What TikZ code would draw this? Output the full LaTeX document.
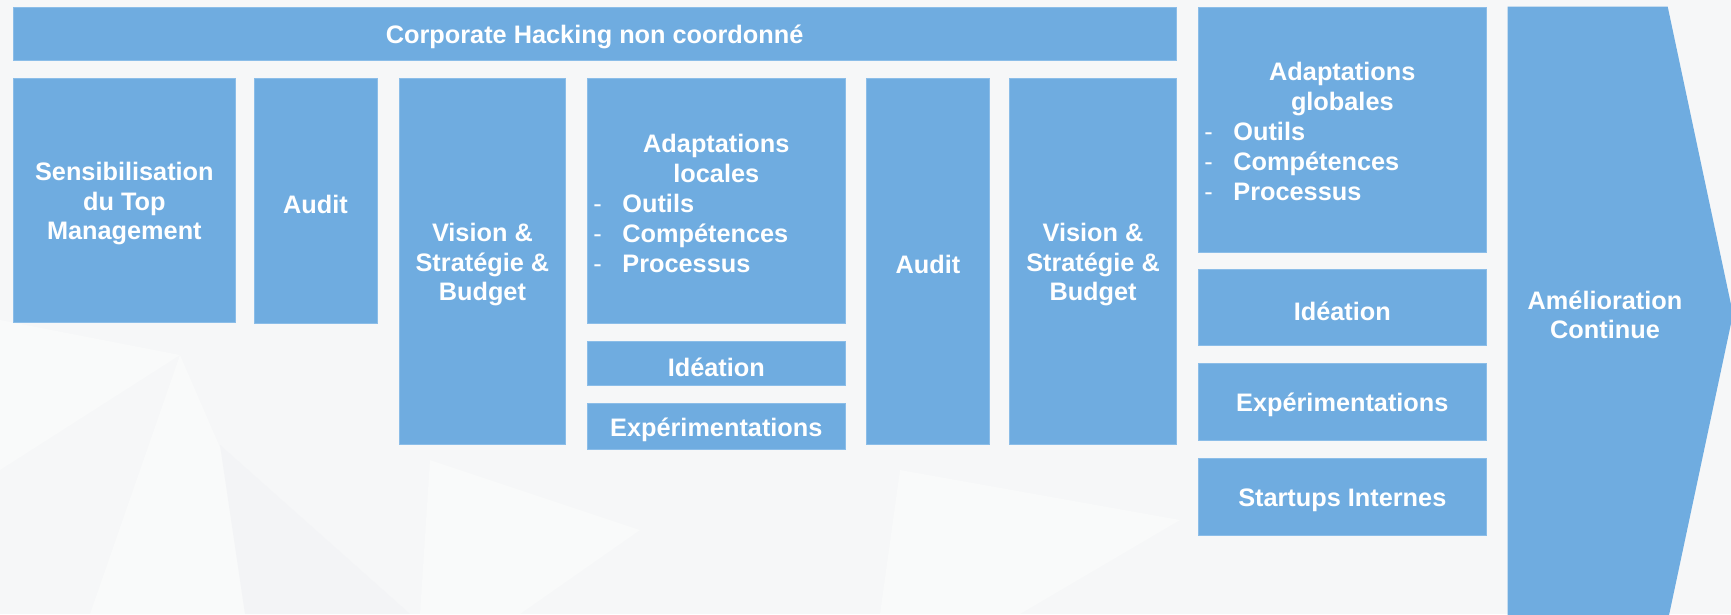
\documentclass[tikz,border=0pt]{standalone}
\usepackage{fontspec}
\setmainfont{Liberation Sans}
\definecolor{boxblue}{HTML}{6FACE0}
\definecolor{boxedge}{HTML}{8BBDE8}
\definecolor{bgcol}{HTML}{F6F7F8}
\definecolor{facetA}{HTML}{F9FAFA}
\definecolor{facetB}{HTML}{F3F4F6}
\newcommand\dashitem[1]{\makebox[35.5pt][l]{\hspace*{6.5pt}\mdseries-}#1}
\tikzset{
  blk/.style={fill=boxblue, draw=boxedge, line width=0.8pt, inner sep=0pt},
  lbl/.style={text=white, inner sep=0pt, font=\bfseries\fontsize{25.3}{30}\selectfont},
  clbl/.style={text=white, inner sep=0pt, align=center, font=\bfseries\fontsize{25.3}{29.5}\selectfont},
  facet/.style={fill=#1, draw=none}
}
\newcommand\mybox[6]{%
  \node[blk, minimum width={(#4-#2)*1pt}, minimum height={(#5-#3)*1pt}]
    (#1) at ({(#2+#4)/2},{(#3+#5)/2}) {};
  \node[clbl] (#1-t) at ([yshift=-3.5pt]#1.center) {#6};}
\begin{document}
\begin{tikzpicture}[x=1pt,y=-1pt]
\useasboundingbox (0,0) rectangle (1731,614);
% background
\fill[bgcol] (0,0) rectangle (1731,614);
\fill[facet=facetA] (0,320) -- (180,355) -- (0,470) -- cycle;
\fill[facet=facetA] (180,355) -- (245,505) -- (300,614) -- (90,614) -- cycle;
\fill[facet=facetB] (220,445) -- (245,614) -- (410,614) -- cycle;
\fill[facet=facetA] (430,460) -- (640,530) -- (520,614) -- (420,614) -- cycle;
\fill[facet=facetA] (900,470) -- (1180,520) -- (1020,614) -- (880,614) -- cycle;
% boxes
\mybox{bar}{13}{7.7}{1176.3}{59.9}{Corporate Hacking non coordonné}
\mybox{sens}{13}{78.3}{235.7}{322.2}{Sensibilisation\\du Top\\Management}
\mybox{auditA}{254}{78.3}{377}{323.4}{Audit}
\mybox{visA}{399.2}{78.3}{565.6}{444.4}{Vision \&\\Stratégie \&\\Budget}
\mybox{adl}{586.9}{78.3}{845.7}{323.4}{}
\mybox{ideA}{586.9}{341.8}{845.7}{385.7}{Idéation}
\mybox{expA}{586.9}{403.7}{845.7}{449.1}{Expérimentations}
\mybox{auditB}{866.5}{78.3}{989.4}{444.4}{Audit}
\mybox{visB}{1009.8}{78.3}{1176.3}{444.4}{Vision \&\\Stratégie \&\\Budget}
\mybox{adg}{1197.9}{7.7}{1486.7}{252.2}{}
\mybox{ideB}{1197.9}{269}{1486.7}{345.7}{Idéation}
\mybox{expB}{1197.9}{363}{1486.7}{440.1}{Expérimentations}
\mybox{start}{1197.9}{458.1}{1486.7}{535.2}{Startups Internes}
% list texts
\node[lbl, text width=258.8pt, anchor=center] (adltxt) at ([yshift=-3pt]adl.center)
  {\centering Adaptations\\locales\par\raggedright
   \dashitem{Outils}\\\dashitem{Compétences}\\\dashitem{Processus}\par};
\node[lbl, text width=288.8pt, anchor=center] (adgtxt) at ([yshift=-2pt]adg.center)
  {\centering Adaptations\\globales\par\raggedright
   \dashitem{Outils}\\\dashitem{Compétences}\\\dashitem{Processus}\par};
% arrow
\fill[boxblue] (1507.5,6.7) coordinate (arA) -- (1667.7,6.7) -- (1733,314) coordinate (tip)
  -- (1667.7,621.3) -- (1507.5,621.3) -- cycle;
\node[clbl] (amel) at (1605,315) {Amélioration\\Continue};
\end{tikzpicture}
\end{document}
